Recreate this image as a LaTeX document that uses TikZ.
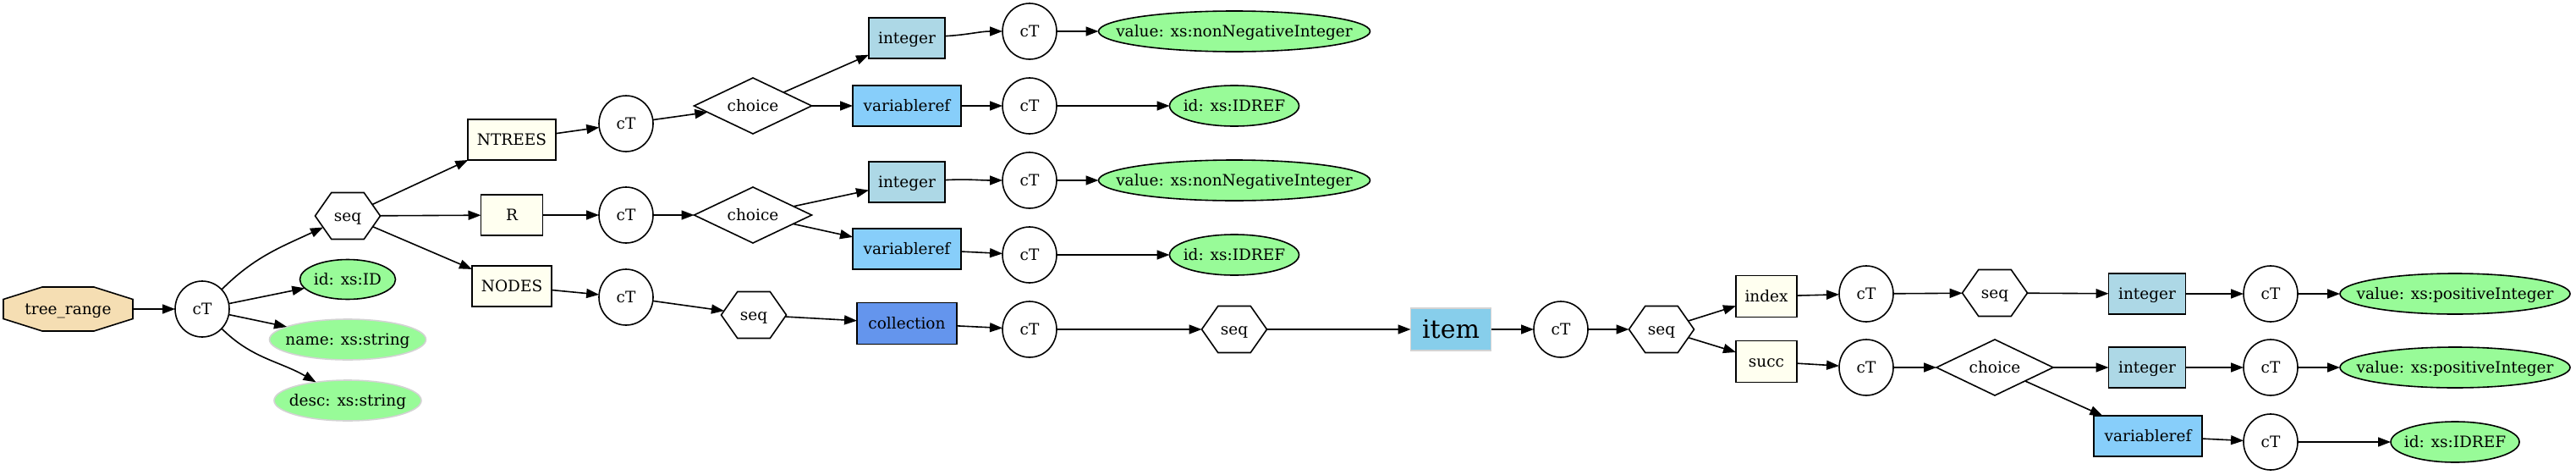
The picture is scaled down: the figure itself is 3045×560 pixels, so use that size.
\documentclass[tikz,border=0pt]{standalone}
\usepackage{fontspec}
\setmainfont{DejaVu Serif}
\usetikzlibrary{shapes.geometric,shapes.symbols,arrows.meta}
\definecolor{wheatc}{HTML}{F5DEB3}
\definecolor{pgreen}{HTML}{98FB98}
\definecolor{ivoryc}{HTML}{FFFFF0}
\definecolor{lblue}{HTML}{ADD8E6}
\definecolor{lsky}{HTML}{87CEFA}
\definecolor{cflower}{HTML}{6495ED}
\definecolor{skyc}{HTML}{87CEEB}
\definecolor{lgray}{HTML}{D3D3D3}
\newcommand{\fnt}{\fontsize{18.5}{22}\selectfont}
\begin{document}
\begin{tikzpicture}[x=1pt,y=1pt,
  base/.style={inner sep=0pt, outer sep=0pt, line width=1.6pt, font=\fnt, text height=13.5pt, text depth=0pt},
  every label/.style={inner sep=0pt, outer sep=0pt, font=\fnt, text height=13.5pt, text depth=0pt},
  ct/.style={base, draw, ellipse, minimum width=64pt, minimum height=66pt},
  ibox/.style={base, draw, rectangle, minimum height=48pt, fill=ivoryc},
  intbox/.style={base, draw, rectangle, minimum height=48pt, minimum width=90pt, fill=lblue},
  varbox/.style={base, draw, rectangle, minimum height=48pt, minimum width=128pt, fill=lsky},
  hexa/.style={base, draw, signal, signal to=east and west, signal pointer angle=110, minimum width=77pt, minimum height=55pt},
  dia/.style={base, draw, diamond, aspect=2, minimum width=139pt, minimum height=66pt},
  attr/.style={base, draw, ellipse, fill=pgreen, minimum height=48pt},
  attrg/.style={attr, draw=lgray},
  edge/.style={line width=1.6pt, -{Triangle[length=15pt,width=11pt]}},
]
\useasboundingbox (0,0) rectangle (3045,-560);
% root octagon
\draw[line width=1.6pt, fill=wheatc, shift={(80.5,-365)}] (-76.5,11.5) -- (-30.5,26) -- (30.5,26) -- (76.5,11.5) -- (76.5,-11.5) -- (30.5,-26) -- (-30.5,-26) -- (-76.5,-11.5) -- cycle;
\node[base, minimum width=153pt, minimum height=52pt] (tree) at (80.5,-365) {tree\_range};
\node[ct] (c0) at (239,-365) {cT};
\node[hexa] (s0) at (411,-255) {seq};
\node[attr, minimum width=113pt, minimum height=47pt, label=center:{id: xs:ID}] (aid) at (411,-330) {};
\node[attrg, minimum width=185pt, label=center:{name: xs:string}] (aname) at (411,-401) {};
\node[attrg, minimum width=174pt, label=center:{desc: xs:string}] (adesc) at (411,-473) {};
\node[ibox, minimum width=104pt] (nt) at (605,-165) {NTREES};
\node[ibox, minimum width=73pt] (r) at (605,-254) {R};
\node[ibox, minimum width=94pt] (nd) at (605,-338) {NODES};
\node[ct] (c1) at (740,-146) {cT};
\node[ct] (c2) at (740,-254) {cT};
\node[ct] (c8) at (740,-351) {cT};
\node[dia] (ch1) at (890,-125) {choice};
\node[dia] (ch2) at (890,-254) {choice};
\node[hexa] (s1) at (891,-372) {seq};
\node[intbox] (i1) at (1072,-45) {integer};
\node[varbox] (v1) at (1072,-125) {variableref};
\node[intbox] (i2) at (1072,-215) {integer};
\node[varbox] (v2) at (1072,-294) {variableref};
\node[base, draw, rectangle, minimum height=49pt, minimum width=118pt, fill=cflower] (col) at (1072,-382) {collection};
\node[ct] (c3) at (1217,-37) {cT};
\node[ct] (c4) at (1217,-125) {cT};
\node[ct] (c5) at (1217,-213) {cT};
\node[ct] (c6) at (1217,-301) {cT};
\node[ct] (c7) at (1217,-389) {cT};
\node[attr, minimum width=321pt, label=center:{value: xs:nonNegativeInteger}] (val1) at (1459,-37) {};
\node[attr, minimum width=153pt, label=center:{id: xs:IDREF}] (id1) at (1459,-125) {};
\node[attr, minimum width=321pt, label=center:{value: xs:nonNegativeInteger}] (val2) at (1459,-213) {};
\node[attr, minimum width=153pt, label=center:{id: xs:IDREF}] (id2) at (1459,-301) {};
\node[hexa] (s2) at (1459,-389) {seq};
\node[base, draw=lgray, rectangle, minimum height=50pt, minimum width=95pt, fill=skyc, font=\fontsize{30}{36}\selectfont, text height=21.9pt] (item) at (1715,-389) {item};
\node[ct] (c9) at (1845,-389) {cT};
\node[hexa] (s3) at (1964,-389) {seq};
\node[ibox, minimum width=72pt, minimum height=49pt] (idx) at (2088,-350) {index};
\node[ibox, minimum width=72pt, minimum height=49pt] (succ) at (2088,-427) {succ};
\node[ct] (c10) at (2206,-347) {cT};
\node[ct] (c12) at (2206,-434) {cT};
\node[hexa] (s4) at (2358,-346) {seq};
\node[dia, minimum width=138pt] (ch3) at (2358,-434) {choice};
\node[intbox, minimum width=91pt] (i3) at (2538,-347) {integer};
\node[intbox, minimum width=91pt] (i4) at (2538,-434) {integer};
\node[varbox] (v3) at (2539,-515) {variableref};
\node[ct] (c11) at (2684,-347) {cT};
\node[ct] (c13) at (2684,-434) {cT};
\node[ct] (c14) at (2684,-522) {cT};
\node[attr, minimum width=272pt, label=center:{value: xs:positiveInteger}] (val3) at (2902,-347) {};
\node[attr, minimum width=272pt, label=center:{value: xs:positiveInteger}] (val4) at (2902,-434) {};
\node[attr, minimum width=152pt, label=center:{id: xs:IDREF}] (id3) at (2902,-522) {};
% edges
\draw[edge] (tree) -- (c0);
\draw[edge] (c0) to[out=45,in=205] (s0);
\draw[edge] (c0) -- (aid);
\draw[edge] (c0) -- (aname);
\draw[edge] (c0) to[out=-45,in=150] (adesc);
\draw[edge] (s0) -- (nt);
\draw[edge] (s0) -- (r);
\draw[edge] (s0) -- (nd);
\draw[edge] (nt) -- (c1);
\draw[edge] (c1) -- (ch1);
\draw[edge] (ch1) -- (i1);
\draw[edge] (ch1) -- (v1);
\draw[edge] (i1) to[out=3,in=180] (c3);
\draw[edge] (c3) -- (val1);
\draw[edge] (v1) -- (c4);
\draw[edge] (c4) -- (id1);
\draw[edge] (r) -- (c2);
\draw[edge] (c2) -- (ch2);
\draw[edge] (ch2) -- (i2);
\draw[edge] (ch2) -- (v2);
\draw[edge] (i2) to[out=3,in=180] (c5);
\draw[edge] (c5) -- (val2);
\draw[edge] (v2) -- (c6);
\draw[edge] (c6) -- (id2);
\draw[edge] (nd) -- (c8);
\draw[edge] (c8) -- (s1);
\draw[edge] (s1) -- (col);
\draw[edge] (col) -- (c7);
\draw[edge] (c7) -- (s2);
\draw[edge] (s2) -- (item);
\draw[edge] (item) -- (c9);
\draw[edge] (c9) -- (s3);
\draw[edge] (s3) -- (idx);
\draw[edge] (s3) -- (succ);
\draw[edge] (idx) -- (c10);
\draw[edge] (c10) -- (s4);
\draw[edge] (s4) -- (i3);
\draw[edge] (i3) -- (c11);
\draw[edge] (c11) -- (val3);
\draw[edge] (succ) -- (c12);
\draw[edge] (c12) -- (ch3);
\draw[edge] (ch3) -- (i4);
\draw[edge] (ch3) -- (v3);
\draw[edge] (i4) -- (c13);
\draw[edge] (c13) -- (val4);
\draw[edge] (v3) -- (c14);
\draw[edge] (c14) -- (id3);
\end{tikzpicture}
\end{document}
